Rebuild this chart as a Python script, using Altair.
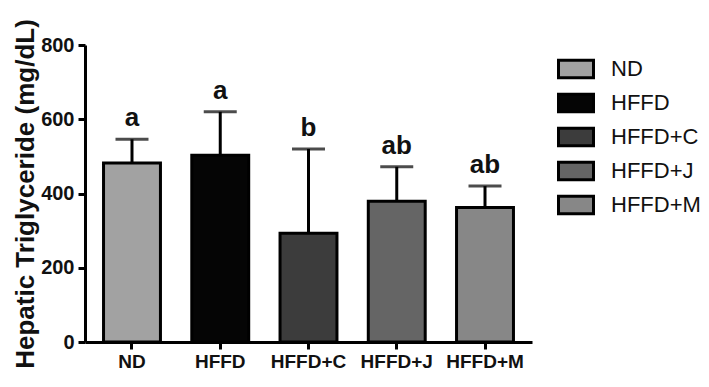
import altair as alt
import pandas as pd

groups = ["ND", "HFFD", "HFFD+C", "HFFD+J", "HFFD+M"]
means = [482, 503, 293, 379, 362]
upper = [546, 620, 520, 472, 420]
letters = ["a", "a", "b", "ab", "ab"]
colors = ["#a2a2a2", "#050505", "#3c3c3c", "#656565", "#878787"]
y_ticks = [0, 200, 400, 600, 800]

df = pd.DataFrame({"group": groups, "mean": means, "upper": upper, "letter": letters})

FONT = "Liberation Sans"
W, H = 447, 297

x = alt.X("group:N", sort=groups,
          scale=alt.Scale(paddingInner=0.355, paddingOuter=0.21),
          axis=alt.Axis(title=None, labelAngle=0, labelAlign="center", labelBaseline="top",
                        labelFont=FONT, labelFontSize=19, domain=True, ticks=True,
                        labelFontWeight="bold", labelColor="#111", tickSize=7,
                        labelPadding=3, domainColor="black", domainWidth=3,
                        tickColor="black", tickWidth=3))

bars = alt.Chart(df).mark_bar(stroke="black", strokeWidth=3).encode(
    x=x,
    y=alt.Y("mean:Q", scale=alt.Scale(domain=[0, 800], nice=False),
            axis=alt.Axis(values=y_ticks, title="Hepatic Triglyceride (mg/dL)",
                          labelFont=FONT, labelFontSize=20, labelFontWeight="bold",
                          labelColor="#111", tickSize=7, labelPadding=4, grid=False,
                          domainColor="black", domainWidth=3, tickColor="black", tickWidth=3,
                          titleFont=FONT, titleFontSize=26, titleFontWeight="bold",
                          titleColor="#111", titleX=-60, titleY=H / 2, titleAngle=270,
                          titleAlign="center", titleBaseline="middle")),
    fill=alt.Fill("group:N", sort=groups,
                  scale=alt.Scale(domain=groups, range=colors),
                  legend=alt.Legend(title=None, orient="none", legendX=472, legendY=5,
                                    symbolType="M-1,-0.5L1,-0.5L1,0.5L-1,0.5Z",
                                    symbolSize=1225, symbolStrokeColor="black",
                                    symbolStrokeWidth=3, labelFont=FONT, labelFontSize=22,
                                    labelColor="#111", labelOffset=16, rowPadding=-1)),
)

whisker = alt.Chart(df).mark_rule(color="black", strokeWidth=3).encode(
    x=x,
    y="mean:Q",
    y2="upper:Q",
)

cap = alt.Chart(df).mark_tick(color="black", thickness=3, size=33, orient="horizontal").encode(
    x=x,
    y="upper:Q",
)

labels = alt.Chart(df).mark_text(font=FONT, fontSize=26, fontWeight="bold", color="#111",
                                 baseline="alphabetic", dy=-13).encode(
    x=x,
    y="upper:Q",
    text="letter:N",
)

chart = alt.layer(whisker, bars, cap, labels).properties(
    width=W, height=H,
    view=alt.ViewBackground(strokeOpacity=0, stroke="white"),
    autosize=alt.AutoSizeParams(type="none"),
    padding={"left": 77, "top": 37, "right": 168, "bottom": 44},
).configure_view(strokeOpacity=0).configure(background="white")

chart.save("out.html", embed_options={"renderer": "svg", "actions": False})
